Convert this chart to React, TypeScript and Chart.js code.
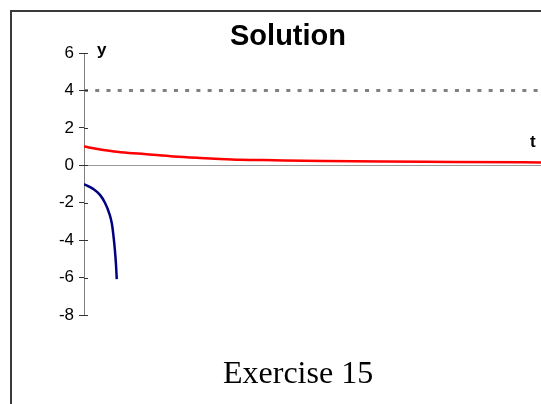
import React, { useEffect, useRef } from 'react';
import { Chart, registerables } from 'chart.js';

Chart.register(...registerables);

// Solution curves (t, y)
const upperT = [0, 0.39, 0.79, 1.18, 1.58, 2.36, 3.05, 3.57, 4.1, 4.99, 6.3, 7.88, 9.72, 12];
const upperY = [1.0, 0.86, 0.74, 0.66, 0.6, 0.47, 0.39, 0.34, 0.3, 0.27, 0.23, 0.2, 0.18, 0.15];

const lowerT = [0, 0.24, 0.42, 0.55, 0.66, 0.73, 0.77, 0.81, 0.84, 0.86];
const lowerY = [-1.0, -1.26, -1.58, -2.0, -2.55, -3.1, -3.7, -4.5, -5.3, -6.08];

// Horizontal reference level
const levelT = [0, 12];
const levelY = [4, 4];

const yTicks = [6, 4, 2, 0, -2, -4, -6, -8];
const tMin = 0;
const tMax = 12;

const chartTitle = 'Solution';
const yName = 'y';
const tName = 't';
const caption = 'Exercise 15';

const W = 541;
const H = 404;

const SANS = '"Liberation Sans", Arial, sans-serif';
const SERIF = '"Liberation Serif", "Times New Roman", serif';

const toPoints = (xs: number[], ys: number[]) => xs.map((x, i) => ({ x, y: ys[i] }));

const decor = {
  id: 'decor',
  beforeDraw(chart: any) {
    const { ctx } = chart;
    ctx.save();
    ctx.fillStyle = '#ffffff';
    ctx.fillRect(0, 0, chart.width, chart.height);
    // outer frame (left and top edges fall inside the canvas)
    ctx.fillStyle = '#3a3a3a';
    ctx.fillRect(10, 10, 2, chart.height - 10);
    ctx.fillRect(10, 10, chart.width - 10, 2);
    ctx.restore();
  },
  afterDraw(chart: any) {
    const { ctx, chartArea } = chart;
    const ys = chart.scales.y;
    ctx.save();
    // inner half of the cross ticks on the y axis
    ctx.strokeStyle = '#333333';
    ctx.lineWidth = 1;
    for (const v of yTicks) {
      const py = Math.round(ys.getPixelForValue(v)) + 0.5;
      ctx.beginPath();
      ctx.moveTo(chartArea.left, py);
      ctx.lineTo(chartArea.left + 4, py);
      ctx.stroke();
    }
    ctx.fillStyle = '#000000';
    ctx.textBaseline = 'alphabetic';
    ctx.font = `bold 29px ${SANS}`;
    ctx.textAlign = 'center';
    ctx.fillText(chartTitle, 288, 45);
    ctx.textAlign = 'left';
    ctx.font = `bold 17px ${SANS}`;
    ctx.fillText(yName, 97, 55);
    ctx.fillText(tName, 530, 147);
    ctx.font = `32px ${SERIF}`;
    ctx.fillText(caption, 223, 383);
    ctx.restore();
  },
};

export default function App() {
  const canvasRef = useRef<HTMLCanvasElement | null>(null);

  useEffect(() => {
    const canvas = canvasRef.current;
    if (!canvas) return;
    const chart = new Chart(canvas, {
      type: 'line',
      data: {
        datasets: [
          {
            label: 'level',
            data: toPoints(levelT, levelY),
            borderColor: '#808080',
            borderWidth: 3,
            borderDash: [4, 7.24],
            borderCapStyle: 'butt',
            pointRadius: 0,
            fill: false,
          },
          {
            label: 'upper',
            data: toPoints(upperT, upperY),
            borderColor: '#ff0000',
            borderWidth: 2.5,
            cubicInterpolationMode: 'monotone',
            pointRadius: 0,
            fill: false,
          },
          {
            label: 'lower',
            data: toPoints(lowerT, lowerY),
            borderColor: '#000080',
            borderWidth: 2.5,
            cubicInterpolationMode: 'monotone',
            pointRadius: 0,
            fill: false,
          },
        ],
      },
      options: {
        responsive: false,
        animation: false,
        devicePixelRatio: 1,
        layout: { padding: { top: 53, bottom: 89, left: 0, right: 0 } },
        plugins: {
          legend: { display: false },
          tooltip: { enabled: false },
          title: { display: false },
        },
        scales: {
          x: {
            type: 'linear',
            min: tMin,
            max: tMax,
            position: { y: 0 },
            ticks: { display: false },
            grid: { display: false, drawTicks: false },
            border: { color: '#999999', width: 1 },
            afterFit: (s: any) => {
              s.height = 0;
            },
          },
          y: {
            type: 'linear',
            min: yTicks[yTicks.length - 1],
            max: yTicks[0],
            afterBuildTicks: (s: any) => {
              s.ticks = yTicks.map((v) => ({ value: v }));
            },
            ticks: {
              color: '#000000',
              padding: 5,
              font: { family: SANS, size: 17 },
            },
            grid: {
              drawOnChartArea: false,
              drawTicks: true,
              tickLength: 5,
              color: '#808080',
              tickColor: '#333333',
              lineWidth: 1,
            },
            border: { color: '#808080', width: 1 },
            afterFit: (s: any) => {
              s.width = 84;
            },
          },
        },
      },
      plugins: [decor],
    } as any);
    return () => chart.destroy();
  }, []);

  return (
    <div style={{ position: 'absolute', left: 0, top: 0, width: W, height: H, overflow: 'hidden' }}>
      <canvas ref={canvasRef} width={W} height={H} style={{ display: 'block' }} />
    </div>
  );
}
